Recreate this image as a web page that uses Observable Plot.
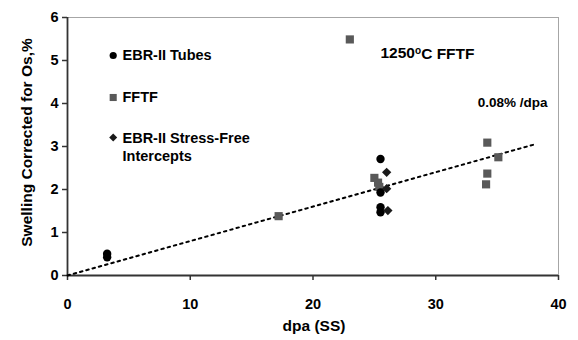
<!DOCTYPE html>
<html>
<head>
<meta charset="utf-8">
<script src="https://cdn.jsdelivr.net/npm/d3@7"></script>
<script src="https://cdn.jsdelivr.net/npm/@observablehq/plot@0.6"></script>
<style>
  html, body { margin: 0; padding: 0; background: #fff; }
</style>
</head>
<body>
<div id="chart"></div>
<script>
// Data
const tubesX = [3.23, 3.23, 25.5, 25.5, 25.5, 25.5];
const tubesY = [0.425, 0.505, 2.71, 1.93, 1.59, 1.47];

const fftfX = [17.2, 23.0, 25.0, 25.3, 25.4, 34.2, 35.1, 34.2, 34.1];
const fftfY = [1.38, 5.49, 2.27, 2.16, 2.06, 3.09, 2.75, 2.37, 2.12];

const stressFreeX = [26.0, 26.0, 26.1];
const stressFreeY = [2.40, 2.02, 1.51];

const trendX = [0, 38.2];
const trendY = [0, 3.06];

const xTicks = [0, 10, 20, 30, 40];
const yTicks = [0, 1, 2, 3, 4, 5, 6];

const legendLabels = ["EBR-II Tubes", "FFTF", "EBR-II Stress-Free", "Intercepts"];
const titleText = "1250°C FFTF";
const rateText = "0.08% /dpa";
const xLabel = "dpa (SS)";
const yLabel = "Swelling Corrected for Os,%";

const pts = (xs, ys) => xs.map((x, i) => ({x, y: ys[i]}));

const chart = Plot.plot({
  width: 578,
  height: 340,
  marginLeft: 67,
  marginRight: 20,
  marginTop: 17,
  marginBottom: 65,
  style: {fontFamily: "'Liberation Sans', Arial, sans-serif", fontSize: "14px", fontWeight: "bold", color: "#000", background: "#fff"},
  x: {domain: [0, 40]},
  y: {domain: [0, 6]},
  marks: [
    Plot.ruleY([6], {stroke: "#a6a6a6", strokeWidth: 1}),
    Plot.ruleX([40], {stroke: "#a6a6a6", strokeWidth: 1}),
    Plot.axisX({ticks: xTicks, tickFormat: d3.format("d"), tickSize: 5, tickPadding: 18, label: null, stroke: "#333", strokeWidth: 1.5, fill: "#000", fontSize: 14.5}),
    Plot.axisY({ticks: yTicks, tickFormat: d3.format("d"), tickSize: 5, tickPadding: 4, label: null, stroke: "#333", strokeWidth: 1.5, fill: "#000", fontSize: 14.5}),
    Plot.ruleY([0], {stroke: "#333", strokeWidth: 1.8}),
    Plot.ruleX([0], {stroke: "#333", strokeWidth: 1.8}),
    Plot.line(pts(trendX, trendY), {x: "x", y: "y", stroke: "#000", strokeWidth: 2, strokeDasharray: "2.5,4"}),
    Plot.dot(pts(fftfX, fftfY), {x: "x", y: "y", symbol: "square", r: 4.6, fill: "#595959", stroke: "none"}),
    Plot.dot(pts(tubesX, tubesY), {x: "x", y: "y", symbol: "circle", r: 4.2, fill: "#000", stroke: "none"}),
    Plot.dot(pts(stressFreeX, stressFreeY), {x: "x", y: "y", symbol: "diamond2", r: 4.2, fill: "#1a1a1a", stroke: "none"}),
    // legend inside plot
    Plot.dot([0], {frameAnchor: "top-left", dx: 45.7, dy: 38, symbol: "circle", r: 3.6, fill: "#000"}),
    Plot.dot([0], {frameAnchor: "top-left", dx: 45.7, dy: 80, symbol: "square", r: 4, fill: "#595959"}),
    Plot.dot([0], {frameAnchor: "top-left", dx: 45.7, dy: 120, symbol: "diamond2", r: 3.6, fill: "#1a1a1a"}),
    Plot.text([legendLabels[0]], {frameAnchor: "top-left", dx: 55, dy: 38, text: d => d, textAnchor: "start", lineAnchor: "middle", fontSize: 14.5, fill: "#000"}),
    Plot.text([legendLabels[1]], {frameAnchor: "top-left", dx: 55, dy: 80, text: d => d, textAnchor: "start", lineAnchor: "middle", fontSize: 14.5, fill: "#000"}),
    Plot.text([legendLabels[2]], {frameAnchor: "top-left", dx: 55, dy: 121, text: d => d, textAnchor: "start", lineAnchor: "middle", fontSize: 14.5, fill: "#000"}),
    Plot.text([legendLabels[3]], {frameAnchor: "top-left", dx: 55, dy: 139, text: d => d, textAnchor: "start", lineAnchor: "middle", fontSize: 14.5, fill: "#000"}),
    Plot.text([titleText], {frameAnchor: "top-left", dx: 313, dy: 36, text: d => d, textAnchor: "start", lineAnchor: "middle", fontSize: 15.5, fill: "#000", className: "title-ann"}),
    Plot.text([rateText], {frameAnchor: "top-right", dx: -11, dy: 85, text: d => d, textAnchor: "end", lineAnchor: "middle", fontSize: 13.5, fill: "#000"}),
    // axis titles
    Plot.text([xLabel], {frameAnchor: "bottom", dx: 1, dy: 51, text: d => d, textAnchor: "middle", lineAnchor: "middle", fontSize: 15.5, fill: "#000"}),
    Plot.text([yLabel], {frameAnchor: "left", dx: -40, dy: -4, rotate: -90, text: d => d, textAnchor: "middle", lineAnchor: "middle", fontSize: 15.5, fill: "#000"})
  ]
});

// render degree sign as superscript "o" like the reference
d3.select(chart).selectAll("g.title-ann text").each(function() {
  const t = d3.select(this);
  t.text(null);
  t.append("tspan").text("1250");
  t.append("tspan").attr("dy", "-0.45em").attr("font-size", "0.65em").text("o");
  t.append("tspan").attr("dy", "0.3em").text("C FFTF");
});

document.getElementById("chart").appendChild(chart);
</script>
</body>
</html>
